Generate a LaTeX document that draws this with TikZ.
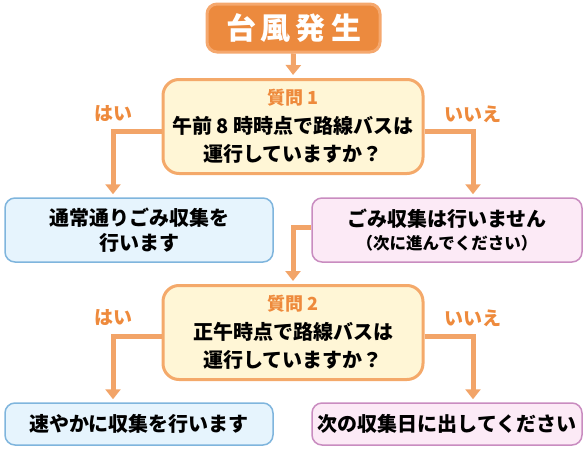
\documentclass[tikz,border=0pt]{standalone}
\usepackage{fontspec}
\setmainfont{Noto Sans CJK JP}
\usepackage{tikz}
\usetikzlibrary{arrows.meta, positioning}

\definecolor{startfill}{HTML}{EC8A3E}
\definecolor{startline}{HTML}{F5A86E}
\definecolor{flowline}{HTML}{F2A468}
\definecolor{askfill}{HTML}{FFF6D6}
\definecolor{askline}{HTML}{F4A96A}
\definecolor{yesfill}{HTML}{E6F4FD}
\definecolor{yesline}{HTML}{7FB5DD}
\definecolor{nofill}{HTML}{FCEAF6}
\definecolor{noline}{HTML}{C98CC0}
\definecolor{labeltext}{HTML}{EE8A3C}

\begin{document}
\begin{tikzpicture}[x=1pt, y=-1pt,   % define the styles here
    startbox/.style={
        draw=startline,
        fill=startfill,
        line width=3pt,
        rounded corners=10pt,
        minimum width=173pt,
        minimum height=48pt,
        text=white,
        font=\fontsize{30}{32}\selectfont\bfseries
    },
    askbox/.style={
        draw=askline,
        fill=askfill,
        line width=3pt,
        rounded corners=16pt,
        minimum width=260pt,
        minimum height=94pt,
        align=center,
        font=\fontsize{20}{28.5}\selectfont\bfseries
    },
    yesbox/.style={
        draw=yesline,
        fill=yesfill,
        line width=1.5pt,
        rounded corners=10pt,
        minimum width=268pt,
        align=center,
        font=\fontsize{20}{25}\selectfont\bfseries
    },
    nobox/.style={
        draw=noline,
        fill=nofill,
        line width=1.5pt,
        rounded corners=10pt,
        minimum width=270pt,
        align=center,
        font=\fontsize{20}{25}\selectfont\bfseries
    },
    answer/.style={
        text=labeltext,
        font=\fontsize{19}{21}\selectfont\bfseries
    },
    flow/.style={
        draw=flowline,
        line width=5pt,
        -{Triangle[width=15pt, length=10pt]},
        shorten >=3pt
    }
]
    \useasboundingbox (0,0) rectangle (587,450);

    % 1. The start
    \node [startbox] (start) at (293.5,28) {台\kern5pt 風\kern5pt 発\kern5pt 生};

    % 2. Question 1
    \node [askbox] (ask1) at (293,126.5) {
        {\color{labeltext}\fontsize{18}{20}\selectfont 質問 1}\\
        午前 8 時時点で路線バスは\\
        運行していますか？
    };

    % 3. Answers to question 1
    \node [yesbox, minimum height=64pt] (yes1) at (139,230) {
        通常通りごみ収集を\\
        行います
    };
    \node [nobox, minimum height=64pt] (no1) at (447,230) {
        ごみ収集は行いません\\[-2pt]
        {\fontsize{16.5}{20}\selectfont （次に進んでください）}
    };

    % 4. Question 2
    \node [askbox] (ask2) at (293,332.5) {
        {\color{labeltext}\fontsize{18}{20}\selectfont 質問 2}\\
        正午時点で路線バスは\\
        運行していますか？
    };

    % 5. Answers to question 2
    \node [yesbox, minimum height=42pt] (yes2) at (139,424) {速やかに収集を行います};
    \node [nobox, minimum height=42pt] (no2) at (447,424) {次の収集日に出してください};

    % The Connections
    \draw [flow] (start.south) -- (ask1.north);
    \draw [flow] ([yshift=-5pt]ask1.west) -| ([xshift=-26pt]yes1.north);
    \draw [flow] ([yshift=-5pt]ask1.east) -| ([xshift=26pt]no1.north);
    \draw [flow] ([yshift=3pt]no1.west) -| (ask2.north);
    \draw [flow] ([yshift=-4pt]ask2.west) -| ([xshift=-26pt]yes2.north);
    \draw [flow] ([yshift=-4pt]ask2.east) -| ([xshift=26pt]no2.north);

    % The answer labels
    \node [answer] (yeslabel1) at (113,114) {はい};
    \node [answer] (nolabel1) at (473,114) {いいえ};
    \node [answer] (yeslabel2) at (113,318) {はい};
    \node [answer] (nolabel2) at (473,318) {いいえ};

\end{tikzpicture}
\end{document}
